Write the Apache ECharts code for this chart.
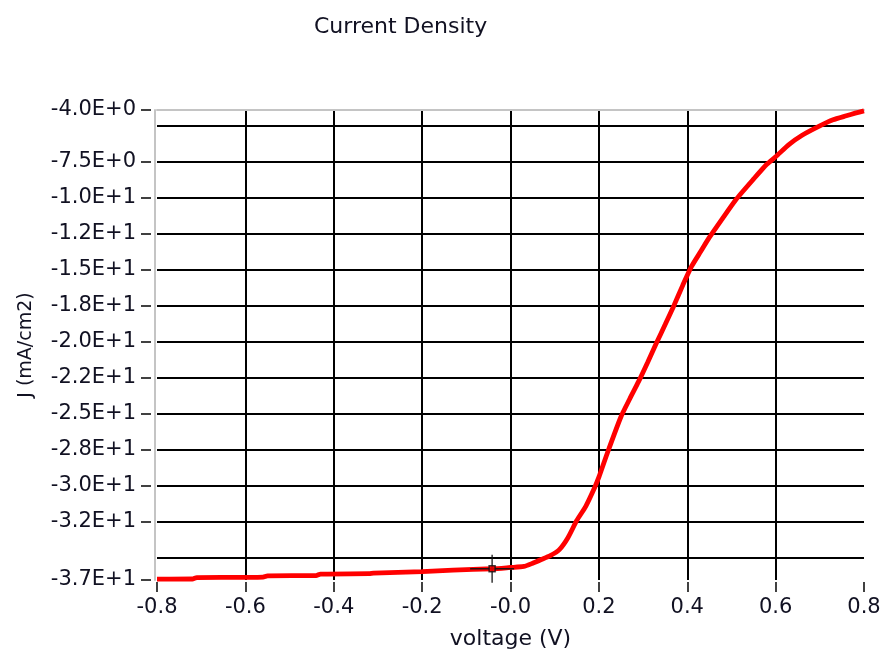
<!DOCTYPE html>
<html>
<head>
<meta charset="utf-8">
<script src="https://cdn.jsdelivr.net/npm/echarts@6/dist/echarts.min.js"></script>
<style>html,body{margin:0;padding:0;background:#fff;}#chart{width:886px;height:650px;}</style>
</head>
<body>
<div id="chart"></div>
<script>
// ---- data ----
const voltage = [-0.80,-0.72,-0.71,-0.60,-0.56,-0.55,-0.44,-0.43,-0.32,-0.31,-0.20,-0.13,-0.04,0.00,0.03,0.05,0.07,0.09,0.11,0.13,0.15,0.17,0.19,0.20,0.22,0.25,0.27,0.29,0.31,0.33,0.35,0.37,0.39,0.41,0.43,0.45,0.48,0.51,0.55,0.58,0.60,0.63,0.66,0.70,0.73,0.76,0.78,0.80];
const currentDensity = [-36.48,-36.47,-36.37,-36.36,-36.34,-36.25,-36.23,-36.13,-36.10,-36.06,-35.96,-35.85,-35.76,-35.67,-35.60,-35.38,-35.12,-34.85,-34.45,-33.60,-32.40,-31.44,-30.15,-29.40,-27.65,-25.20,-23.95,-22.75,-21.45,-20.10,-18.80,-17.47,-16.06,-14.75,-13.75,-12.75,-11.42,-10.13,-8.70,-7.67,-7.15,-6.30,-5.65,-5.00,-4.58,-4.30,-4.12,-3.96];
const cursorPoint = [-0.0416, -35.76];

const xTickLabels = ['-0.8','-0.6','-0.4','-0.2','-0.0','0.2','0.4','0.6','0.8'];
const yMin = -36.54, yMax = -3.9;
const yTickValues = [-3.9,-7.5,-10,-12.5,-15,-17.5,-20,-22.5,-25,-27.5,-30,-32.5,-36.54];
const yTickLabels = ['-4.0E+0','-7.5E+0','-1.0E+1','-1.2E+1','-1.5E+1','-1.8E+1','-2.0E+1','-2.2E+1','-2.5E+1','-2.8E+1','-3.0E+1','-3.2E+1','-3.7E+1'];
const yGridValues = [-5,-7.5,-10,-12.5,-15,-17.5,-20,-22.5,-25,-27.5,-30,-32.5,-35];

const FONT = 'DejaVu Sans';
const TXT = '#111122';

const chart = echarts.init(document.getElementById('chart'), null, {renderer: 'canvas'});
const lineData = voltage.map((v, i) => [v, currentDensity[i]]);

chart.setOption({
  animation: false,
  backgroundColor: '#fff',
  title: {
    text: 'Current Density',
    left: 309, top: 11,
    textStyle: {fontFamily: FONT, fontSize: 22, fontWeight: 'normal', color: TXT}
  },
  grid: {left: 157, right: 22, top: 110, bottom: 70, containLabel: false, outerBoundsMode: 'none'},
  xAxis: [{
    type: 'value', min: -0.8, max: 0.8, interval: 0.2,
    position: 'bottom', offset: 2,
    name: 'voltage (V)', nameLocation: 'middle', nameGap: 46,
    nameTextStyle: {fontFamily: FONT, fontSize: 22, color: TXT},
    axisLine: {show: false, onZero: false},
    axisTick: {show: true, length: 10, lineStyle: {color: '#111', width: 1.6}},
    axisLabel: {
      margin: 15, fontFamily: FONT, fontSize: 21, color: TXT,
      showMinLabel: true, showMaxLabel: true,
      formatter: v => xTickLabels[Math.round(v * 5) + 4]
    },
    splitLine: {show: true, showMinLine: false, showMaxLine: false, lineStyle: {color: '#000', width: 2}}
  }, {
    type: 'value', min: -0.8, max: 0.8, position: 'top',
    axisLine: {show: true, onZero: false, lineStyle: {color: '#c4c4c4', width: 2}},
    axisTick: {show: false}, axisLabel: {show: false}, splitLine: {show: false}
  }],
  yAxis: [{
    type: 'value', min: yMin, max: yMax, position: 'left', offset: 6,
    name: 'J (mA/cm2)', nameLocation: 'middle', nameGap: 115, nameRotate: 90,
    nameTextStyle: {fontFamily: FONT, fontSize: 19, color: TXT},
    axisLine: {show: false, onZero: false},
    axisTick: {show: true, length: 10, customValues: yTickValues, lineStyle: {color: '#111', width: 1.6}},
    axisLabel: {
      show: true, margin: 15, fontFamily: FONT, fontSize: 21, color: TXT,
      customValues: yTickValues, showMinLabel: true, showMaxLabel: true,
      formatter: function (v) {
        let best = 0, d = Infinity;
        yTickValues.forEach((t, i) => { const dd = Math.abs(t - v); if (dd < d) { d = dd; best = i; } });
        return yTickLabels[best];
      }
    },
    splitLine: {show: false}
  }, {
    type: 'value', min: yMin, max: yMax, position: 'left', offset: 2,
    axisLine: {show: true, onZero: false, lineStyle: {color: '#c4c4c4', width: 2}},
    axisTick: {show: false, customValues: yGridValues},
    axisLabel: {show: false},
    splitLine: {show: true, showMinLine: true, showMaxLine: true, lineStyle: {color: '#000', width: 2}}
  }],
  series: [{
    type: 'line', xAxisIndex: 0, yAxisIndex: 0,
    data: lineData, showSymbol: false, smooth: 0.2,
    lineStyle: {color: '#ff0000', width: 4.8}, z: 3
  }, {
    type: 'scatter', xAxisIndex: 0, yAxisIndex: 0,
    data: [cursorPoint],
    symbol: 'path://M0,13.3h44v1.4h-44z M21.3,0h1.4v28h-1.4z',
    symbolSize: [44, 28],
    itemStyle: {color: '#111', opacity: 0.9}, z: 4, silent: true
  }, {
    type: 'scatter', xAxisIndex: 0, yAxisIndex: 0,
    data: [cursorPoint],
    symbol: 'rect', symbolSize: 6,
    itemStyle: {color: '#ff0000', borderColor: '#111', borderWidth: 1.5}, z: 5, silent: true
  }]
});
</script>
</body>
</html>
